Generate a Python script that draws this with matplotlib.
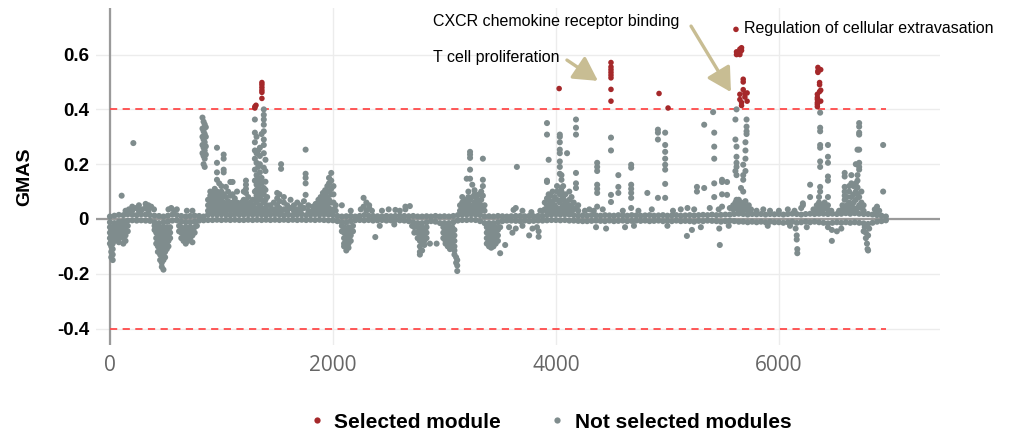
"""GMAS per module, selected modules highlighted in red."""

import matplotlib

matplotlib.use("Agg")
import matplotlib.pyplot as plt
from matplotlib.lines import Line2D

GRAY = "#7f8c8d"
RED = "#a5282a"
ARROW = "#c8bd93"
THRESH_COLOR = "#ff4a4a"

THRESHOLD = 0.4
X_TICKS = [0, 2000, 4000, 6000]
Y_TICKS = [-0.4, -0.2, 0, 0.2, 0.4, 0.6]
Y_TICK_LABELS = ["-0.4", "-0.2", "0", "0.2", "0.4", "0.6"]

# dense band of modules sitting close to zero (one upper and one lower value per step)
BAND_X = [
    0, 40, 80, 120, 160, 200, 240, 280, 320, 360,
    400, 440, 480, 520, 560, 600, 640, 680, 720, 760,
    800, 840, 880, 920, 960, 1000, 1040, 1080, 1120, 1160,
    1200, 1240, 1280, 1320, 1360, 1400, 1440, 1480, 1520, 1560,
    1600, 1640, 1680, 1720, 1760, 1800, 1840, 1880, 1920, 1960,
    2000, 2040, 2080, 2120, 2160, 2200, 2240, 2280, 2320, 2360,
    2400, 2440, 2480, 2520, 2560, 2600, 2640, 2680, 2720, 2760,
    2800, 2840, 2880, 2920, 2960, 3000, 3040, 3080, 3120, 3160,
    3200, 3240, 3280, 3320, 3360, 3400, 3440, 3480, 3520, 3560,
    3600, 3640, 3680, 3720, 3760, 3800, 3840, 3880, 3920, 3960,
    4000, 4040, 4080, 4120, 4160, 4200, 4240, 4280, 4320, 4360,
    4400, 4440, 4480, 4520, 4560, 4600, 4640, 4680, 4720, 4760,
    4800, 4840, 4880, 4920, 4960, 5000, 5040, 5080, 5120, 5160,
    5200, 5240, 5280, 5320, 5360, 5400, 5440, 5480, 5520, 5560,
    5600, 5640, 5680, 5720, 5760, 5800, 5840, 5880, 5920, 5960,
    6000, 6040, 6080, 6120, 6160, 6200, 6240, 6280, 6320, 6360,
    6400, 6440, 6480, 6520, 6560, 6600, 6640, 6680, 6720, 6760,
    6800, 6840, 6880, 6920, 6960,
]
BAND_UPPER = [
    0.009, 0.012, 0.015, 0.014, 0.017, 0.016, 0.014, 0.017, 0.016, 0.014,
    0.012, 0.011, 0.009, 0.012, 0.016, 0.014, 0.011, 0.009, 0.011, 0.012,
    0.011, 0.009, 0.016, 0.017, 0.016, 0.017, 0.016, 0.014, 0.017, 0.016,
    0.016, 0.017, 0.016, 0.017, 0.016, 0.014, 0.016, 0.017, 0.016, 0.014,
    0.016, 0.014, 0.016, 0.017, 0.014, 0.016, 0.017, 0.016, 0.017, 0.016,
    0.014, 0.011, 0.009, 0.01, 0.011, 0.009, 0.011, 0.014, 0.012, 0.011,
    0.01, 0.009, 0.011, 0.01, 0.011, 0.012, 0.011, 0.01, 0.011, 0.009,
    0.009, 0.01, 0.009, 0.011, 0.009, 0.01, 0.009, 0.011, 0.014, 0.016,
    0.016, 0.017, 0.016, 0.014, 0.009, 0.01, 0.009, 0.011, 0.01, 0.009,
    0.01, 0.011, 0.011, 0.01, 0.011, 0.01, 0.011, 0.011, 0.014, 0.016,
    0.017, 0.016, 0.017, 0.016, 0.014, 0.012, 0.013, 0.012, 0.014, 0.013,
    0.012, 0.014, 0.013, 0.012, 0.014, 0.013, 0.012, 0.014, 0.013, 0.012,
    0.013, 0.014, 0.012, 0.013, 0.014, 0.012, 0.013, 0.014, 0.012, 0.013,
    0.014, 0.013, 0.014, 0.015, 0.014, 0.016, 0.014, 0.015, 0.016, 0.016,
    0.018, 0.019, 0.018, 0.016, 0.018, 0.017, 0.018, 0.016, 0.018, 0.017,
    0.018, 0.016, 0.018, 0.019, 0.018, 0.016, 0.018, 0.019, 0.018, 0.019,
    0.019, 0.018, 0.019, 0.018, 0.019, 0.021, 0.019, 0.021, 0.019, 0.018,
    0.018, 0.016, 0.014, 0.012, 0.009,
]
BAND_LOWER = [
    -0.012, -0.015, -0.01, -0.008, -0.006, -0.005, -0.006, -0.005, -0.006, -0.007,
    -0.012, -0.015, -0.012, -0.01, -0.006, -0.005, -0.01, -0.012, -0.012, -0.01,
    -0.006, -0.005, -0.004, -0.004, -0.003, -0.004, -0.003, -0.004, -0.003, -0.004,
    -0.004, -0.003, -0.004, -0.003, -0.004, -0.003, -0.004, -0.003, -0.004, -0.003,
    -0.004, -0.003, -0.004, -0.003, -0.004, -0.003, -0.004, -0.003, -0.004, -0.005,
    -0.005, -0.008, -0.012, -0.012, -0.008, -0.005, -0.004, -0.005, -0.004, -0.006,
    -0.005, -0.004, -0.006, -0.005, -0.004, -0.005, -0.006, -0.008, -0.012, -0.015,
    -0.015, -0.012, -0.008, -0.01, -0.015, -0.015, -0.015, -0.012, -0.006, -0.004,
    -0.004, -0.003, -0.004, -0.008, -0.015, -0.015, -0.015, -0.012, -0.008, -0.006,
    -0.006, -0.007, -0.008, -0.006, -0.008, -0.007, -0.006, -0.006, -0.005, -0.004,
    -0.004, -0.005, -0.004, -0.006, -0.006, -0.007, -0.008, -0.008, -0.007, -0.006,
    -0.007, -0.008, -0.006, -0.008, -0.007, -0.006, -0.008, -0.007, -0.006, -0.007,
    -0.006, -0.008, -0.007, -0.006, -0.008, -0.007, -0.008, -0.006, -0.008, -0.007,
    -0.008, -0.01, -0.007, -0.008, -0.006, -0.007, -0.008, -0.01, -0.008, -0.007,
    -0.008, -0.01, -0.01, -0.012, -0.01, -0.012, -0.01, -0.012, -0.01, -0.012,
    -0.012, -0.014, -0.012, -0.01, -0.014, -0.012, -0.01, -0.012, -0.01, -0.012,
    -0.014, -0.016, -0.014, -0.012, -0.014, -0.012, -0.014, -0.012, -0.014, -0.016,
    -0.018, -0.014, -0.01, -0.008, -0.005,
]

# not-selected modules above the band: (module position, GMAS values)
RISE_COLUMNS = [
    (105, [0.085]), (210, [0.277]),
    (140, [0.03]), (170, [0.035]), (200, [0.03, 0.045]), (235, [0.04]), (260, [0.03, 0.05]),
    (290, [0.035]), (320, [0.04, 0.055]), (345, [0.03, 0.05]), (370, [0.045]), (395, [0.035]),
    (525, [0.035]), (550, [0.04]), (575, [0.03]), (600, [0.035]), (690, [0.03]), (740, [0.03]),
    (830, [0.37, 0.33, 0.3, 0.27, 0.24]), (840, [0.355, 0.32, 0.29, 0.26, 0.23, 0.2]),
    (850, [0.345, 0.31, 0.28, 0.25, 0.22, 0.19]), (860, [0.335, 0.3, 0.265, 0.235]),
    (880, [0.03, 0.05, 0.07]), (900, [0.035, 0.06, 0.085, 0.1]), (920, [0.03, 0.05, 0.075, 0.095]),
    (940, [0.04, 0.065, 0.09, 0.11]), (960, [0.03, 0.055, 0.08, 0.1, 0.143, 0.17, 0.205, 0.26]),
    (980, [0.04, 0.065, 0.085, 0.13]), (1000, [0.03, 0.05, 0.075, 0.1, 0.12]),
    (1020, [0.04, 0.06, 0.09, 0.17, 0.18, 0.22, 0.235]), (1040, [0.03, 0.055, 0.08, 0.117]),
    (1060, [0.04, 0.065, 0.1]), (1080, [0.03, 0.05, 0.085, 0.135]), (1100, [0.035, 0.06, 0.09, 0.135]),
    (1120, [0.03, 0.05, 0.075]), (1140, [0.035, 0.06, 0.1]),
    (1160, [0.03, 0.05]), (1180, [0.035, 0.06]), (1200, [0.03, 0.05, 0.07, 0.1]),
    (1220, [0.04, 0.065, 0.095, 0.11, 0.125, 0.14]), (1240, [0.03, 0.05, 0.08]),
    (1260, [0.035, 0.06]), (1280, [0.03, 0.05, 0.07]),
    (1300, [0.04, 0.07, 0.1, 0.14, 0.18, 0.22, 0.25, 0.28, 0.315, 0.363]),
    (1315, [0.03, 0.06, 0.085, 0.106, 0.125, 0.143, 0.16, 0.205, 0.24, 0.3]),
    (1330, [0.04, 0.07, 0.1, 0.12, 0.15, 0.19, 0.25]),
    (1345, [0.03, 0.05, 0.085, 0.11, 0.14, 0.17, 0.2, 0.23, 0.26]),
    (1360, [0.04, 0.07, 0.1, 0.13, 0.15, 0.31]),
    (1380, [0.03, 0.06, 0.09, 0.113, 0.187, 0.24, 0.27, 0.29, 0.32, 0.344, 0.363, 0.38, 0.4]),
    (1395, [0.04, 0.07, 0.106, 0.136, 0.175, 0.216]), (1410, [0.03, 0.05, 0.08]),
    (1440, [0.03, 0.05]), (1470, [0.035, 0.06]), (1500, [0.03, 0.05, 0.075, 0.095]),
    (1520, [0.04, 0.065, 0.09]), (1535, [0.03, 0.183, 0.2]), (1560, [0.035, 0.06, 0.08]),
    (1590, [0.03, 0.05]), (1620, [0.04, 0.07]), (1650, [0.03, 0.05]), (1680, [0.035, 0.06]),
    (1710, [0.03, 0.05]), (1740, [0.04, 0.065]), (1755, [0.088, 0.13, 0.15, 0.165, 0.253]),
    (1780, [0.03, 0.05]),
    (1820, [0.03, 0.045]), (1845, [0.035, 0.055]), (1870, [0.03, 0.05, 0.07]),
    (1890, [0.04, 0.06, 0.08]), (1910, [0.03, 0.05, 0.075, 0.095]), (1930, [0.04, 0.065, 0.09, 0.105]),
    (1950, [0.03, 0.055, 0.08, 0.12]), (1965, [0.04, 0.07, 0.1, 0.13, 0.15]),
    (1985, [0.03, 0.06, 0.09, 0.11, 0.14, 0.168]), (2005, [0.035, 0.06, 0.09, 0.12]), (2025, [0.03, 0.05]),
    (2080, [0.05]), (2160, [0.03]), (2250, [0.035]), (2275, [0.045, 0.077]), (2300, [0.03, 0.06]),
    (2325, [0.04, 0.05]), (2350, [0.03]), (2440, [0.03]), (2500, [0.035]), (2560, [0.033]),
    (2600, [0.03]), (2650, [0.035, 0.045]), (2690, [0.047]),
    (3140, [0.03, 0.05]), (3160, [0.035, 0.06, 0.08]), (3180, [0.03, 0.05, 0.07]),
    (3200, [0.04, 0.065, 0.147]), (3215, [0.03, 0.055, 0.08, 0.1]),
    (3230, [0.04, 0.07, 0.147, 0.18, 0.223, 0.235, 0.245]), (3250, [0.03, 0.05, 0.08, 0.125]),
    (3270, [0.04, 0.06, 0.09, 0.105]), (3290, [0.03, 0.05, 0.075]), (3310, [0.035, 0.06, 0.09]),
    (3330, [0.03, 0.05, 0.07, 0.1]), (3345, [0.04, 0.085, 0.12, 0.143, 0.22]), (3360, [0.03, 0.05]),
    (3620, [0.033]), (3640, [0.04]), (3650, [0.19]), (3700, [0.03]), (3780, [0.025]), (3860, [0.03]),
    (3880, [0.03]), (3900, [0.035, 0.06]), (3920, [0.03, 0.05, 0.075, 0.135, 0.14, 0.308, 0.35]),
    (3935, [0.04, 0.07, 0.09, 0.216]), (3950, [0.03, 0.055, 0.085]), (3970, [0.04, 0.065, 0.1]),
    (3990, [0.03, 0.05, 0.08]), (4010, [0.04, 0.07, 0.1, 0.12]),
    (4035, [0.03, 0.06, 0.09, 0.165, 0.19, 0.21, 0.24, 0.253, 0.28, 0.3, 0.308]),
    (4050, [0.04, 0.07, 0.1, 0.113, 0.143, 0.16]), (4065, [0.03, 0.05, 0.08, 0.12]),
    (4085, [0.04, 0.065, 0.09]), (4100, [0.03, 0.055, 0.24]), (4120, [0.04, 0.07, 0.1]),
    (4140, [0.03, 0.05, 0.08]), (4160, [0.035, 0.06]),
    (4180, [0.04, 0.113, 0.13, 0.168, 0.308, 0.333, 0.363]), (4200, [0.03, 0.05]),
    (4260, [0.03]), (4300, [0.035]), (4340, [0.03]),
    (4370, [0.045, 0.095, 0.11, 0.125, 0.175, 0.19, 0.205]), (4420, [0.035]),
    (4494, [0.062, 0.088, 0.25, 0.297]), (4560, [0.095, 0.117, 0.16]), (4600, [0.03]),
    (4675, [0.04, 0.077, 0.095, 0.11, 0.125, 0.187, 0.198]), (4740, [0.03]), (4820, [0.095]),
    (4860, [0.035]),
    (4915, [0.077, 0.29, 0.315, 0.326]), (4980, [0.077, 0.128, 0.18, 0.198, 0.22, 0.245, 0.27, 0.315]),
    (5050, [0.03]), (5120, [0.035]),
    (5180, [0.04]), (5240, [0.035]), (5265, [0.1, 0.117]), (5330, [0.113, 0.344]), (5380, [0.04]),
    (5410, [0.39]), (5420, [0.08, 0.13, 0.22, 0.264, 0.315]), (5460, [0.035]),
    (5490, [0.045, 0.09, 0.135, 0.143]), (5535, [0.088, 0.135]), (5560, [0.04]),
    (5590, [0.035, 0.05]), (5610, [0.04, 0.06, 0.175, 0.29, 0.363]),
    (5620, [0.07, 0.16, 0.19, 0.205, 0.227, 0.264, 0.4]), (5640, [0.03, 0.05, 0.07]),
    (5660, [0.04, 0.06, 0.113]), (5680, [0.03, 0.05, 0.1, 0.143, 0.16, 0.198]),
    (5700, [0.04, 0.065, 0.175, 0.22, 0.25, 0.28]), (5710, [0.31, 0.32, 0.337, 0.363]),
    (5730, [0.03, 0.05]), (5750, [0.035]),
    (5800, [0.03]), (5860, [0.035]), (5920, [0.03]), (6000, [0.03]), (6080, [0.035]), (6140, [0.03]),
    (6200, [0.04]), (6215, [0.05, 0.057]), (6280, [0.08, 0.125]), (6310, [0.035]),
    (6340, [0.03, 0.05]), (6360, [0.04, 0.06, 0.08]),
    (6370, [0.045, 0.1, 0.117, 0.19, 0.21, 0.26, 0.27, 0.32, 0.333, 0.388]),
    (6390, [0.03, 0.05]), (6410, [0.04, 0.06]),
    (6440, [0.033, 0.05, 0.08, 0.14, 0.155, 0.205, 0.227, 0.27]), (6470, [0.03]),
    (6540, [0.03]), (6570, [0.035, 0.05]), (6590, [0.04, 0.07, 0.085, 0.1, 0.117, 0.155, 0.168]),
    (6610, [0.03, 0.05, 0.08]), (6630, [0.04, 0.06, 0.1, 0.12]), (6650, [0.03, 0.05, 0.08, 0.13, 0.16]),
    (6670, [0.04, 0.06, 0.09, 0.12]), (6690, [0.03, 0.07, 0.1, 0.13, 0.2]),
    (6705, [0.04, 0.09, 0.115, 0.14, 0.16, 0.253]),
    (6720, [0.05, 0.08, 0.18, 0.19, 0.205, 0.253, 0.308, 0.315, 0.337, 0.35]),
    (6740, [0.04, 0.06, 0.1]), (6760, [0.03, 0.05]),
    (6860, [0.035]), (6880, [0.026, 0.045]), (6900, [0.03]), (6935, [0.1, 0.27]),
]

# not-selected modules below the band
DIP_COLUMNS = [
    (0, [-0.03, -0.05, -0.07, -0.09]), (12, [-0.04, -0.06, -0.08, -0.1, -0.12, -0.14]),
    (25, [-0.03, -0.06, -0.09, -0.11, -0.13, -0.15]), (40, [-0.025, -0.045, -0.065, -0.08]),
    (60, [-0.02, -0.04, -0.06, -0.075]), (80, [-0.03, -0.05, -0.07, -0.085]), (100, [-0.02, -0.04, -0.06]),
    (120, [-0.03, -0.05, -0.07, -0.09]), (140, [-0.02, -0.04, -0.06, -0.08]), (160, [-0.025, -0.045]),
    (400, [-0.025, -0.04]), (415, [-0.03, -0.05, -0.07, -0.09]), (430, [-0.04, -0.06, -0.08, -0.1, -0.12]),
    (450, [-0.03, -0.05, -0.07, -0.09, -0.11, -0.13, -0.15]),
    (465, [-0.04, -0.06, -0.08, -0.1, -0.12, -0.14, -0.16, -0.175]),
    (480, [-0.03, -0.05, -0.07, -0.09, -0.11, -0.13, -0.15, -0.185]),
    (495, [-0.04, -0.06, -0.08, -0.1, -0.12, -0.14]), (510, [-0.03, -0.05, -0.07, -0.09, -0.11]),
    (525, [-0.04, -0.06, -0.08, -0.1]), (540, [-0.03, -0.05, -0.07]),
    (620, [-0.025, -0.045]), (640, [-0.03, -0.05, -0.07]), (660, [-0.04, -0.06, -0.08]),
    (680, [-0.03, -0.05, -0.07, -0.09]), (700, [-0.04, -0.06, -0.08]), (720, [-0.03, -0.05, -0.07]),
    (740, [-0.04, -0.06, -0.085]), (760, [-0.03, -0.05]), (780, [-0.025]),
    (2080, [-0.025, -0.045]), (2100, [-0.03, -0.05, -0.07, -0.09, -0.1]),
    (2120, [-0.04, -0.06, -0.08, -0.1, -0.115]), (2140, [-0.03, -0.05, -0.07, -0.09, -0.105]),
    (2160, [-0.04, -0.06, -0.08]), (2180, [-0.025, -0.045]), (2380, [-0.066]), (2420, [-0.025]),
    (2550, [-0.02]),
    (2710, [-0.025]), (2730, [-0.03, -0.05]), (2760, [-0.03, -0.05, -0.07]),
    (2780, [-0.04, -0.06, -0.08, -0.1, -0.12, -0.13]), (2800, [-0.03, -0.05, -0.07, -0.09, -0.115]),
    (2820, [-0.04, -0.06, -0.08, -0.095]), (2840, [-0.03, -0.05, -0.07]), (2870, [-0.09]), (2930, [-0.09]),
    (2990, [-0.03, -0.05, -0.07]), (3010, [-0.04, -0.06, -0.08, -0.09]),
    (3030, [-0.03, -0.05, -0.07, -0.09, -0.1]), (3050, [-0.04, -0.06, -0.08, -0.1, -0.11]),
    (3070, [-0.03, -0.05, -0.07, -0.09, -0.1]), (3090, [-0.04, -0.06, -0.08, -0.1, -0.115, -0.13]),
    (3105, [-0.14, -0.16]), (3115, [-0.15, -0.17, -0.19]),
    (3380, [-0.03, -0.05, -0.07, -0.09]), (3400, [-0.04, -0.06, -0.08, -0.1]),
    (3420, [-0.03, -0.05, -0.07, -0.09, -0.105]), (3440, [-0.04, -0.06, -0.08, -0.1]),
    (3460, [-0.03, -0.05, -0.07, -0.09]), (3480, [-0.04, -0.06, -0.08]), (3500, [-0.03, -0.125]),
    (3545, [-0.095]), (3580, [-0.03]), (3610, [-0.05]),
    (3640, [-0.035]), (3700, [-0.025]), (3760, [-0.06]), (3790, [-0.035]), (3830, [-0.03]),
    (3845, [-0.065, -0.045]),
    (4360, [-0.03]), (4450, [-0.035]), (4620, [-0.03]), (4700, [-0.025]), (5000, [-0.025]),
    (5175, [-0.062]), (5220, [-0.04]), (5300, [-0.03]), (5465, [-0.035]), (5470, [-0.095]),
    (5550, [-0.025]), (5900, [-0.025]),
    (6100, [-0.025]), (6150, [-0.035]), (6160, [-0.06, -0.075]), (6165, [-0.11, -0.125]),
    (6250, [-0.03]), (6440, [-0.03]), (6475, [-0.04, -0.08]), (6520, [-0.045]), (6560, [-0.035]),
    (6760, [-0.045]), (6770, [-0.03]), (6780, [-0.05, -0.07]), (6790, [-0.09]), (6795, [-0.11]),
    (6800, [-0.06, -0.115]), (6810, [-0.035]),
]

# selected modules (GMAS above threshold)
SELECTED_COLUMNS = [
    (1300, [0.41, 0.405]), (1310, [0.415]),
    (1363, [0.498, 0.49, 0.48, 0.47, 0.462, 0.44]),
    (4029, [0.476]),
    (4494, [0.571, 0.555, 0.545, 0.535, 0.525, 0.515, 0.473, 0.43]),
    (4925, [0.458]), (5006, [0.405]),
    (5615, [0.692]), (5620, [0.61, 0.6]), (5650, [0.62, 0.608, 0.6]), (5665, [0.625, 0.615]),
    (5680, [0.51, 0.5, 0.472]), (5695, [0.458, 0.445]), (5650, [0.455, 0.436]),
    (5665, [0.425, 0.414]), (5715, [0.46, 0.43]),
    (6350, [0.553, 0.54, 0.535]), (6365, [0.498, 0.49, 0.465]),
    (6345, [0.455, 0.443, 0.436, 0.425, 0.418, 0.41]), (6375, [0.545, 0.47, 0.43]),
]

LABELS = [
    ("CXCR chemokine receptor binding", 2897, 0.719),
    ("T cell proliferation", 2897, 0.591),
    ("Regulation of cellular extravasation", 5687, 0.697),
]
# arrow tail -> head, data coords
ARROWS = [
    ((4099, 0.58), (4377, 0.504)),
    ((5212, 0.704), (5570, 0.463)),
]


def flatten(columns):
    xs, ys = [], []
    for x, values in columns:
        xs.extend([x] * len(values))
        ys.extend(values)
    return xs, ys


def main() -> None:
    fig = plt.figure(figsize=(10.09, 4.40), dpi=100)
    ax = fig.add_axes([96 / 1009, 1 - 345 / 440, 844 / 1009, 337 / 440])

    ax.set_xlim(-125, 7445)
    ax.set_ylim(-0.46, 0.77)
    for spine in ax.spines.values():
        spine.set_visible(False)

    ax.set_xticks(X_TICKS)
    ax.set_yticks(Y_TICKS)
    ax.set_yticklabels(Y_TICK_LABELS)
    ax.tick_params(length=0)
    ax.tick_params(axis="y", pad=5, labelsize=13.5)
    ax.tick_params(axis="x", pad=7, labelsize=15, labelcolor="#666666")
    for label in ax.get_yticklabels():
        label.set_fontweight("bold")
        label.set_fontfamily("Liberation Sans")
    for label in ax.get_xticklabels():
        label.set_fontfamily("Open Sans")
    ax.grid(True, color="#ececec", linewidth=1.0, zorder=0)
    ax.set_axisbelow(True)

    ax.axhline(0, color="#9a9a9a", linewidth=1.6, zorder=1)
    ax.axvline(0, color="#9a9a9a", linewidth=1.6, zorder=1)

    x_lo, x_hi = min(BAND_X), max(BAND_X)
    for level in (THRESHOLD, -THRESHOLD):
        ax.hlines(level, x_lo, x_hi, colors=THRESH_COLOR, linestyles=(0, (4, 3)),
                  linewidth=1.3, zorder=1.5)

    size = 19
    ax.scatter(BAND_X, BAND_UPPER, s=size, color=GRAY, edgecolors="none", zorder=2)
    ax.scatter(BAND_X, BAND_LOWER, s=size, color=GRAY, edgecolors="none", zorder=2)
    rx, ry = flatten(RISE_COLUMNS)
    ax.scatter(rx, ry, s=size, color=GRAY, edgecolors="none", zorder=2)
    dx, dy = flatten(DIP_COLUMNS)
    ax.scatter(dx, dy, s=size, color=GRAY, edgecolors="none", zorder=2)
    sx, sy = flatten(SELECTED_COLUMNS)
    ax.scatter(sx, sy, s=16, color=RED, edgecolors="none", zorder=3)

    for text, x, y in LABELS:
        ax.text(x, y, text, fontsize=11.5, family="Liberation Sans", ha="left", va="center", zorder=4)
    for tail, head in ARROWS:
        ax.annotate("", xy=head, xytext=tail,
                    arrowprops=dict(arrowstyle="-|>,head_length=0.9,head_width=0.5",
                                    color=ARROW, lw=2.4, shrinkA=0, shrinkB=0, mutation_scale=16),
                    zorder=4)

    ax.set_ylabel("GMAS", fontsize=14, fontweight="bold", family="Liberation Sans", va="center")
    ax.yaxis.set_label_coords((25 - 96) / 844, 0.5)

    handles = [
        Line2D([], [], linestyle="none", marker="o", markersize=4.5, color=RED, markeredgewidth=0),
        Line2D([], [], linestyle="none", marker="o", markersize=4.5, color=GRAY, markeredgewidth=0),
    ]
    fig.legend(handles, ["Selected module", "Not selected modules"], loc="center",
               bbox_to_anchor=(549 / 1009, 1 - 422 / 440), ncol=2, frameon=False,
               prop={"family": "Liberation Sans", "weight": "bold", "size": 15},
               handletextpad=0.35, columnspacing=2.2, handlelength=1.0)

    fig.savefig("out.png", dpi=100)
    plt.close(fig)


if __name__ == "__main__":
    main()
